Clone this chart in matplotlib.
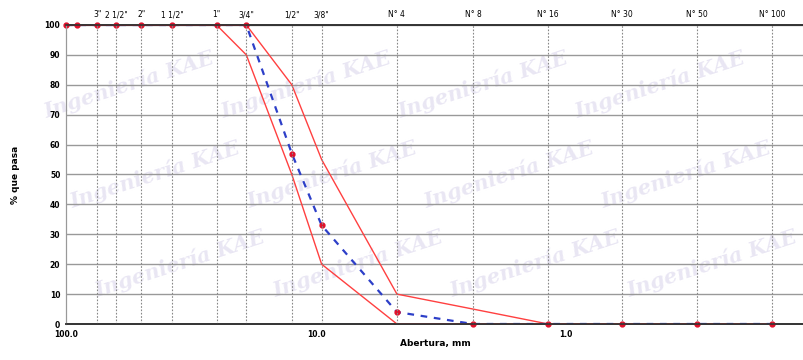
import numpy as np
import matplotlib.pyplot as plt

# sieve openings (mm) and names
sieve_mm = [75, 63, 50, 37.5, 25, 19, 12.5, 9.5, 4.75, 2.36, 1.18, 0.6, 0.3, 0.15]
sieve_names = ['3"', '2 1/2"', '2"', '1 1/2"', '1"', '3/4"', '1/2"', '3/8"',
               'N° 4', 'N° 8', 'N° 16', 'N° 30', 'N° 50', 'N° 100']

# grading of the sample
sample_mm = [100, 90, 75, 63, 50, 37.5, 25, 19, 12.5, 9.5, 4.75, 2.36, 1.18, 0.6, 0.3, 0.15]
sample_pass = [100, 100, 100, 100, 100, 100, 100, 100, 57, 33, 4, 0, 0, 0, 0, 0]

# specification limits
lim_mm = [100, 25, 19, 12.5, 9.5, 4.75, 2.36, 1.18, 0.6, 0.3, 0.15]
upper = [100, 100, 100, 80, 55, 10, 5, 0, 0, 0, 0]
lower = [100, 100, 90, 50, 20, 0, 0, 0, 0, 0, 0]

fig = plt.figure(figsize=(8.04, 3.6), dpi=100)
ax = fig.add_axes([0.082, 0.1, 0.918, 0.8306])

# faint watermark, kept inside the plot area
for j, yy in enumerate([0.2, 0.5, 0.8]):
    for xx in [0.12, 0.36, 0.60, 0.84]:
        ax.text(xx - 0.035 * (j - 1), yy, 'Ingeniería KAE',
                transform=ax.transAxes, fontsize=15, color='#cfc9e6', alpha=0.45,
                rotation=18, fontweight='bold', style='italic', family='DejaVu Serif',
                ha='center', va='center', zorder=0)

ax.plot(lim_mm, upper, color='#ff4040', lw=1.0, zorder=3)
ax.plot(lim_mm, lower, color='#ff4040', lw=1.0, zorder=3)
ax.plot(sample_mm, sample_pass, color='#2d3fc8', lw=1.6, ls=(0, (3, 3)), zorder=4)
ax.plot(sample_mm, sample_pass, ls='none', marker='o', ms=3.5, color='#e0102a',
        zorder=5, clip_on=False)
ax.plot(sample_mm[:8], sample_pass[:8], color='#e0102a', lw=1.4, zorder=4)

ax.set_xscale('log')
ax.set_xlim(100, 0.112)
ax.set_ylim(0, 100)
ax.set_yticks(range(0, 101, 10))
ax.set_xticks([100, 10, 1])
ax.set_xticklabels(['100.0', '10.0', '1.0'])
ax.minorticks_off()
ax.tick_params(axis='both', length=0, labelsize=5.5, pad=4)
for t in ax.get_yticklabels() + ax.get_xticklabels():
    t.set_fontweight('bold')
ax.grid(axis='y', color='#999999', lw=1.0)
ax.set_axisbelow(True)
ax.set_xlabel('Abertura, mm', fontsize=6.5, fontweight='bold', labelpad=0)
ax.set_ylabel('% que pasa', fontsize=6.5, fontweight='bold', labelpad=18)

ax2 = ax.twiny()
ax2.set_xscale('log')
ax2.set_xlim(100, 0.112)
ax2.set_xticks(sieve_mm)
ax2.set_xticklabels(sieve_names)
ax2.minorticks_off()
ax2.tick_params(axis='x', length=0, labelsize=5.5, pad=4)
ax2.grid(axis='x', color='#888888', lw=0.8, ls=(0, (1.5, 1.5)))

for a in (ax, ax2):
    a.spines['right'].set_visible(False)
    a.spines['top'].set_color('#333333')
    a.spines['top'].set_linewidth(1.2)
    a.spines['bottom'].set_color('#333333')
    a.spines['bottom'].set_linewidth(1.2)
    a.spines['left'].set_color('#999999')

fig.savefig('out.png', dpi=100)
